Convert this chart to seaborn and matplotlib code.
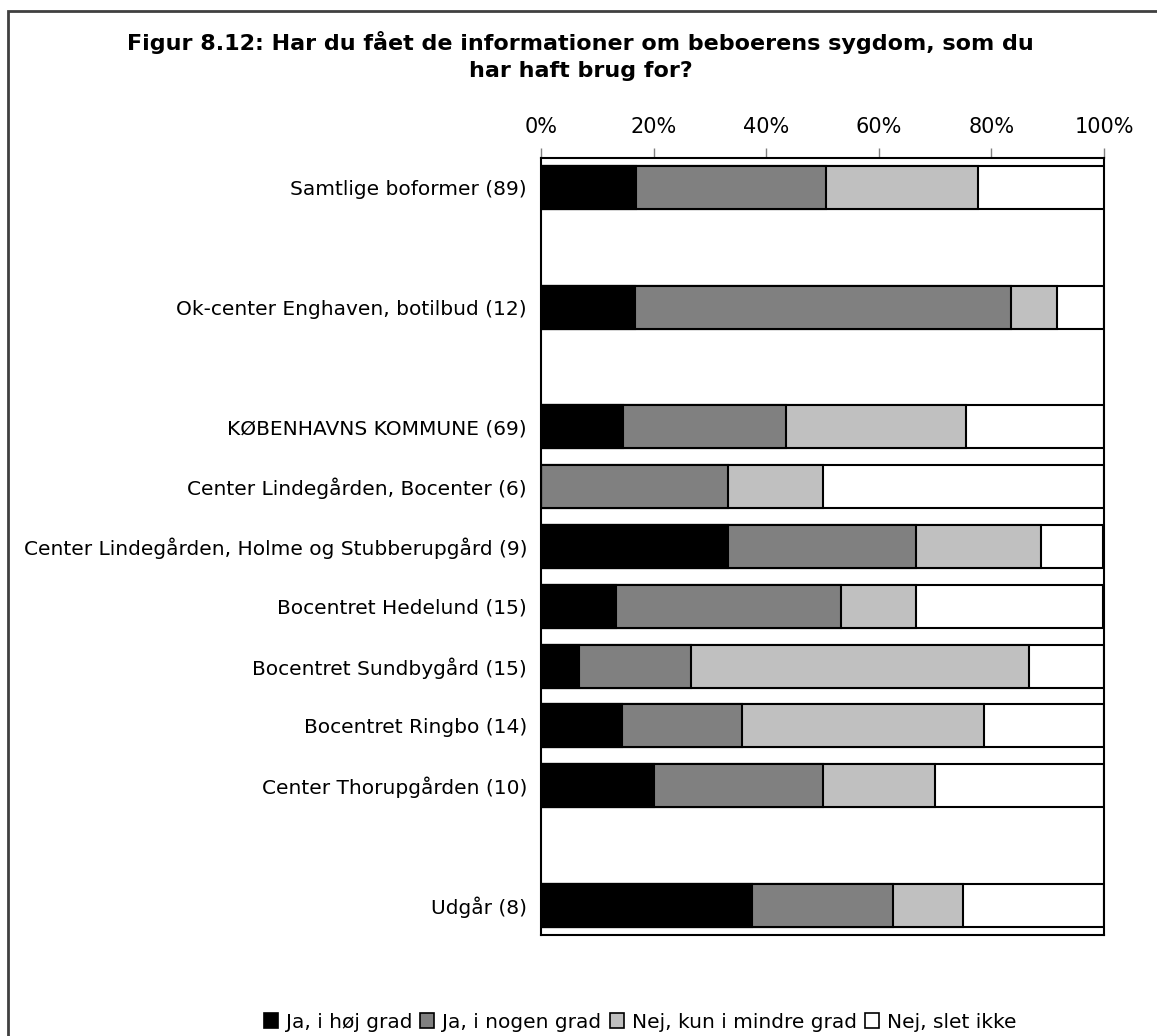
import matplotlib
matplotlib.use("Agg")
import matplotlib.pyplot as plt
from matplotlib.patches import Patch, Rectangle
import seaborn as sns
import pandas as pd
import numpy as np

sns.set_theme(style="white")
plt.rcParams['font.family'] = ['DejaVu Sans']
plt.rcParams['text.color'] = 'black'
plt.rcParams['xtick.color'] = 'black'
plt.rcParams['ytick.color'] = 'black'

# rows in display order, blank strings are empty spacer rows
rows = [
    "Samtlige boformer (89)",
    " ",
    "Ok-center Enghaven, botilbud (12)",
    "  ",
    "KØBENHAVNS KOMMUNE (69)",
    "Center Lindegården, Bocenter (6)",
    "Center Lindegården, Holme og Stubberupgård (9)",
    "Bocentret Hedelund (15)",
    "Bocentret Sundbygård (15)",
    "Bocentret Ringbo (14)",
    "Center Thorupgården (10)",
    "   ",
    "Udgår (8)",
]
groups = [r for r in rows if r.strip()]

series_names = ["Ja, i høj grad", "Ja, i nogen grad", "Nej, kun i mindre grad", "Nej, slet ikke"]
hoej = [16.9, 16.7, 14.5, 0.0, 33.3, 13.3, 6.7, 14.3, 20.0, 37.5]
nogen = [33.7, 66.7, 29.0, 33.3, 33.3, 40.0, 20.0, 21.4, 30.0, 25.0]
mindre = [27.0, 8.3, 31.9, 16.7, 22.2, 13.3, 60.0, 42.9, 20.0, 12.5]
slet = [22.5, 8.3, 24.6, 50.0, 11.1, 33.3, 13.3, 21.4, 30.0, 25.0]
colors = ["#000000", "#808080", "#c0c0c0", "#ffffff"]

df = pd.DataFrame({"gruppe": groups})
cum = np.cumsum(np.array([hoej, nogen, mindre, slet]), axis=0)

W, H = 1157, 1036
fig = plt.figure(figsize=(W / 100, H / 100), dpi=100)
ax = fig.add_axes([541 / W, 1 - 935 / H, (1104 - 541) / W, (935 - 158) / H])

# draw from the back: full total first, then smaller cumulative sums on top
for i in range(3, -1, -1):
    d = df.copy()
    d["val"] = cum[i]
    sns.barplot(data=d, y="gruppe", x="val", order=rows, color=colors[i],
                orient="h", width=0.72, edgecolor="black", linewidth=1.5,
                saturation=1, ax=ax)

ax.set_xlim(0, 100)
ax.set_ylim(len(rows) - 0.5, -0.5)
ax.set_xlabel("")
ax.set_ylabel("")
ax.xaxis.tick_top()
ax.set_xticks([0, 20, 40, 60, 80, 100])
ax.set_xticklabels([f"{t}%" for t in [0, 20, 40, 60, 80, 100]])
ax.tick_params(axis="x", which="both", top=True, direction="out", length=7,
               width=1, color="#808080", labelsize=15, pad=8)
ax.tick_params(axis="y", length=0, labelsize=14.5, pad=10)
for s in ax.spines.values():
    s.set_visible(True)
    s.set_color("black")
    s.set_linewidth(1.5)

fig.text(0.502, 1 - 56 / H, "Figur 8.12: Har du fået de informationer om beboerens sygdom, som du\nhar haft brug for?",
         ha="center", va="center", fontsize=16, fontweight="bold", linespacing=1.45)

handles = [Patch(facecolor=c, edgecolor="black", linewidth=1.2) for c in colors]
fig.legend(handles, series_names, loc="center", bbox_to_anchor=(640 / W, 1 - 1022 / H),
           ncol=4, frameon=False, fontsize=14.5, handlelength=0.7, handleheight=0.7,
           handletextpad=0.4, columnspacing=0.4)

fig.add_artist(Rectangle((8 / W, -0.2), 2, 1.2 - 11 / H, transform=fig.transFigure,
                         fill=False, edgecolor="#404040", linewidth=2))

fig.savefig("out.png", dpi=100, facecolor="white")
